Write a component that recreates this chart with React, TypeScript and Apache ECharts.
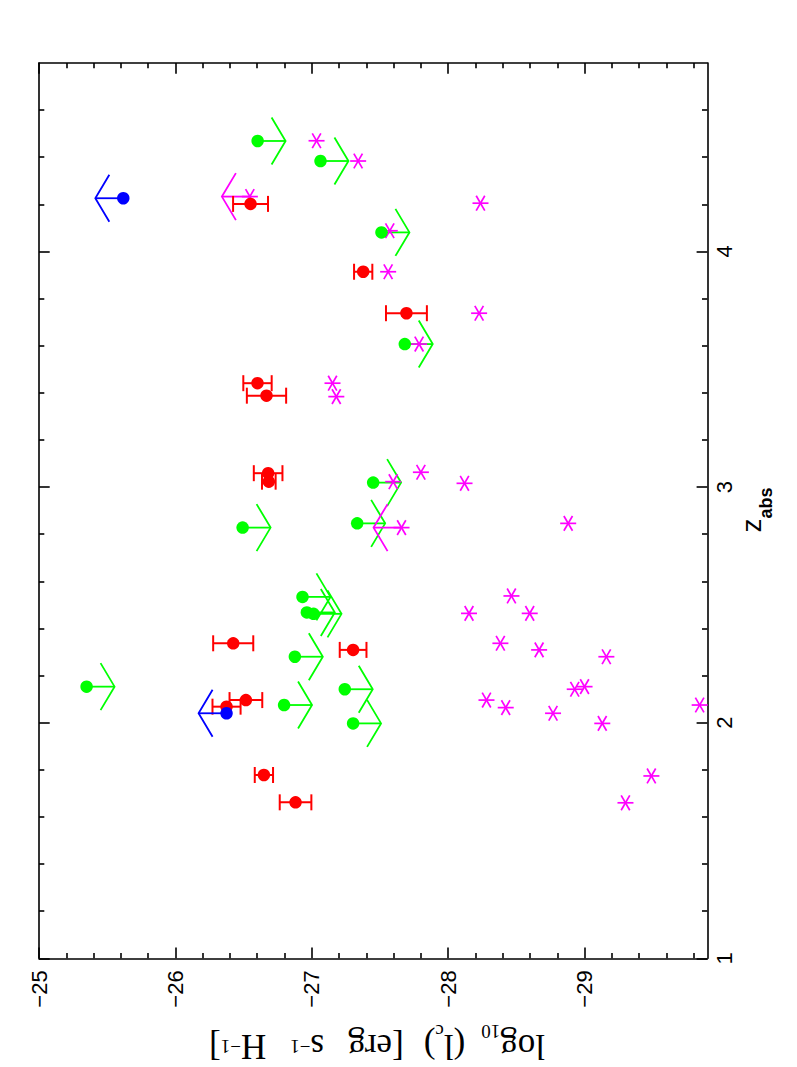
import React, { useEffect, useRef } from "react";
import * as echarts from "echarts";

// ---- axis ranges & ticks ----
const LC_MIN = -29.9;
const LC_MAX = -25;
const Z_MIN = 1;
const Z_MAX = 4.8;
const lcMajorTicks = [-29, -28, -27, -26, -25];
const lcMinorTicks = [
  -29.8, -29.6, -29.4, -29.2, -28.8, -28.6, -28.4, -28.2, -27.8, -27.6,
  -27.4, -27.2, -26.8, -26.6, -26.4, -26.2, -25.8, -25.6, -25.4, -25.2,
];
const zMajorTicks = [1, 2, 3, 4];
const zMinorTicks = [
  1.2, 1.4, 1.6, 1.8, 2.2, 2.4, 2.6, 2.8, 3.2, 3.4, 3.6, 3.8, 4.2, 4.4, 4.6,
];

// ---- data: [log10 lc, z_abs] ----
const greenUpperLimits = [
  [-26.603, 4.469],
  [-27.064, 4.384],
  [-27.511, 4.081],
  [-27.682, 3.607],
  [-27.45, 3.019],
  [-26.493, 2.828],
  [-27.333, 2.846],
  [-26.932, 2.534],
  [-26.964, 2.468],
  [-27.013, 2.462],
  [-26.876, 2.28],
  [-27.242, 2.142],
  [-27.303, 1.997],
  [-26.797, 2.075],
  [-25.349, 2.153],
];

// [log10 lc, z_abs, error]
const redMeasurements = [
  [-26.551, 4.202, 0.128],
  [-27.377, 3.914, 0.067],
  [-27.694, 3.738, 0.15],
  [-26.602, 3.441, 0.104],
  [-26.668, 3.388, 0.144],
  [-26.68, 3.059, 0.105],
  [-26.685, 3.023, 0.05],
  [-26.424, 2.337, 0.147],
  [-27.303, 2.309, 0.098],
  [-26.517, 2.096, 0.12],
  [-26.375, 2.068, 0.103],
  [-26.649, 1.778, 0.067],
  [-26.881, 1.662, 0.116],
];

const blueLowerLimits = [
  [-25.618, 4.226],
  [-26.375, 2.04],
];

const magentaStars = [
  [-27.035, 4.47],
  [-27.34, 4.384],
  [-26.546, 4.233],
  [-27.572, 4.088],
  [-27.56, 3.914],
  [-28.237, 4.205],
  [-28.227, 3.738],
  [-27.787, 3.607],
  [-27.152, 3.441],
  [-27.18, 3.384],
  [-27.597, 3.023],
  [-27.8, 3.063],
  [-28.12, 3.016],
  [-27.658, 2.828],
  [-28.88, 2.846],
  [-28.153, 2.464],
  [-28.464, 2.538],
  [-28.598, 2.464],
  [-28.383, 2.337],
  [-28.667, 2.309],
  [-29.16, 2.28],
  [-28.928, 2.142],
  [-29.0, 2.153],
  [-28.281, 2.096],
  [-28.422, 2.064],
  [-28.769, 2.04],
  [-29.13, 1.997],
  [-29.844, 2.075],
  [-29.49, 1.774],
  [-29.3, 1.66],
];

const magentaLowerLimits = [
  [-26.546, 4.233],
  [-27.658, 2.828],
];

const ARROW_LEN = 0.205; // in log10 lc units

const GREEN = "#00ff00";
const RED = "#ff0000";
const BLUE = "#0000ff";
const MAGENTA = "#ff00ff";
const BLACK = "#000000";

function arrowRenderer(color: string, dir: number) {
  return (params: any, api: any) => {
    const lc = api.value(0);
    const z = api.value(1);
    const p = api.coord([lc, z]);
    const t = api.coord([lc + dir * ARROW_LEN, z]);
    const s = Math.sign(t[0] - p[0]) || 1;
    const bx = t[0] - s * 14;
    const st = { stroke: color, lineWidth: 1.8, fill: "none" };
    return {
      type: "group",
      children: [
        { type: "line", shape: { x1: p[0], y1: p[1], x2: t[0], y2: t[1] }, style: st },
        {
          type: "polyline",
          shape: { points: [[bx, t[1] - 23.5], [t[0], t[1]], [bx, t[1] + 23.5]] },
          style: st,
        },
      ],
    };
  };
}

function starRenderer(params: any, api: any) {
  const p = api.coord([api.value(0), api.value(1)]);
  const st = { stroke: MAGENTA, lineWidth: 1.7 };
  return {
    type: "group",
    children: [
      { type: "line", shape: { x1: p[0] - 8, y1: p[1], x2: p[0] + 8, y2: p[1] }, style: st },
      { type: "line", shape: { x1: p[0] - 4.3, y1: p[1] - 7.4, x2: p[0] + 4.3, y2: p[1] + 7.4 }, style: st },
      { type: "line", shape: { x1: p[0] - 4.3, y1: p[1] + 7.4, x2: p[0] + 4.3, y2: p[1] - 7.4 }, style: st },
    ],
  };
}

function errorBarRenderer(params: any, api: any) {
  const lc = api.value(0);
  const z = api.value(1);
  const e = api.value(2);
  const a = api.coord([lc - e, z]);
  const b = api.coord([lc + e, z]);
  const st = { stroke: RED, lineWidth: 2 };
  return {
    type: "group",
    children: [
      { type: "line", shape: { x1: a[0], y1: a[1], x2: b[0], y2: b[1] }, style: st },
      { type: "line", shape: { x1: a[0], y1: a[1] - 8, x2: a[0], y2: a[1] + 8 }, style: st },
      { type: "line", shape: { x1: b[0], y1: b[1] - 8, x2: b[0], y2: b[1] + 8 }, style: st },
    ],
  };
}

export default function App() {
  const ref = useRef<HTMLDivElement>(null);

  useEffect(() => {
    if (!ref.current) return;
    const chart = echarts.init(ref.current, null, { renderer: "svg" });

    const lineStyle = { color: BLACK, width: 1.6 };
    const hidden = { show: false };

    const xBase = {
      type: "value",
      min: LC_MIN,
      max: LC_MAX,
      inverse: true,
      splitLine: hidden,
      axisLabel: hidden,
    };
    const yBase = {
      type: "value",
      min: Z_MIN,
      max: Z_MAX,
      splitLine: hidden,
      axisLabel: hidden,
    };

    const xAxis = [
      {
        ...xBase,
        position: "bottom",
        axisLine: { show: true, onZero: false, lineStyle },
        axisTick: { show: true, inside: true, length: 10.7, customValues: lcMajorTicks, lineStyle },
        axisLabel: {
          show: true,
          customValues: lcMajorTicks,
          rotate: 90,
          margin: 12,
          color: BLACK,
          fontSize: 22,
          fontFamily: "Liberation Sans",
          formatter: (v: number) => "\u2212" + Math.abs(v),
        },
      },
      {
        ...xBase,
        position: "bottom",
        axisLine: { show: false, onZero: false },
        axisTick: { show: true, inside: true, length: 5.3, customValues: lcMinorTicks, lineStyle },
      },
      {
        ...xBase,
        position: "top",
        axisLine: { show: true, onZero: false, lineStyle },
        axisTick: { show: true, inside: true, length: 10.7, customValues: lcMajorTicks, lineStyle },
      },
      {
        ...xBase,
        position: "top",
        axisLine: { show: false, onZero: false },
        axisTick: { show: true, inside: true, length: 5.3, customValues: lcMinorTicks, lineStyle },
      },
    ];

    const yAxis = [
      {
        ...yBase,
        position: "right",
        axisLine: { show: true, onZero: false, lineStyle },
        axisTick: { show: true, inside: true, length: 10.7, customValues: zMajorTicks, lineStyle },
        axisLabel: {
          show: true,
          customValues: zMajorTicks,
          rotate: 90,
          margin: 6,
          color: BLACK,
          fontSize: 22,
          fontFamily: "Liberation Sans",
          formatter: (v: number) => String(v),
        },
      },
      {
        ...yBase,
        position: "right",
        axisLine: { show: false, onZero: false },
        axisTick: { show: true, inside: true, length: 5.3, customValues: zMinorTicks, lineStyle },
      },
      {
        ...yBase,
        position: "left",
        axisLine: { show: true, onZero: false, lineStyle },
        axisTick: { show: true, inside: true, length: 10.7, customValues: zMajorTicks, lineStyle },
      },
      {
        ...yBase,
        position: "left",
        axisLine: { show: false, onZero: false },
        axisTick: { show: true, inside: true, length: 5.3, customValues: zMinorTicks, lineStyle },
      },
    ];

    const custom = (name: string, data: any[], renderItem: any) => ({
      name,
      type: "custom",
      xAxisIndex: 0,
      yAxisIndex: 0,
      data,
      encode: { x: 0, y: 1 },
      renderItem,
      silent: true,
    });
    const circles = (name: string, data: any[], color: string) => ({
      name,
      type: "scatter",
      xAxisIndex: 0,
      yAxisIndex: 0,
      data,
      symbol: "circle",
      symbolSize: 12.5,
      itemStyle: { color, opacity: 1 },
      silent: true,
    });

    const option = {
      animation: false,
      backgroundColor: "#ffffff",
      textStyle: { fontFamily: "Liberation Sans" },
      grid: {
        left: 39,
        top: 63,
        right: 89.7,
        bottom: 108.7,
        containLabel: false,
        outerBoundsMode: "none",
      },
      xAxis,
      yAxis,
      series: [
        custom("green limits", greenUpperLimits, arrowRenderer(GREEN, -1)),
        circles("green", greenUpperLimits, GREEN),
        custom("magenta limits", magentaLowerLimits, arrowRenderer(MAGENTA, 1)),
        custom("magenta", magentaStars, starRenderer),
        custom("red errors", redMeasurements, errorBarRenderer),
        circles("red", redMeasurements.map((d) => [d[0], d[1]]), RED),
        custom("blue limits", blueLowerLimits, arrowRenderer(BLUE, 1)),
        circles("blue", blueLowerLimits, BLUE),
      ],
      graphic: [
        {
          type: "text",
          x: 377,
          y: 1046.5,
          rotation: Math.PI,
          silent: true,
          style: {
            text:
              "{m|log}{sub|10}{g1| }{m|(l}{sub|c}{m|)}{g2| }{m|[erg}{g3| }{m|s}{sup|\u22121}{g3| }{m|H}{sup|\u22121}{m|]}",
            align: "center",
            verticalAlign: "middle",
            fill: BLACK,
            rich: {
              m: { fontSize: 35, fontFamily: "Liberation Serif", lineHeight: 50, verticalAlign: "middle", fill: BLACK },
              sub: { fontSize: 19, fontFamily: "Liberation Serif", lineHeight: 19, verticalAlign: "bottom", fill: BLACK },
              sup: { fontSize: 19, fontFamily: "Liberation Serif", lineHeight: 19, verticalAlign: "middle", fill: BLACK },
              g1: { fontSize: 35, width: 16, lineHeight: 50 },
              g2: { fontSize: 35, width: 20, lineHeight: 50 },
              g3: { fontSize: 35, width: 24, lineHeight: 50 },
            },
          },
        },
        {
          type: "text",
          x: 751,
          y: 510,
          rotation: Math.PI / 2,
          silent: true,
          style: {
            text: "{z|z}{s|abs}",
            align: "center",
            verticalAlign: "middle",
            fill: BLACK,
            rich: {
              z: { fontSize: 28, fontFamily: "Liberation Sans", lineHeight: 48, verticalAlign: "middle", fill: BLACK },
              s: { fontSize: 18, fontFamily: "Liberation Sans", fontWeight: "bold", lineHeight: 18, verticalAlign: "bottom", fill: BLACK },
            },
          },
        },
      ],
    };

    chart.setOption(option as any);
    return () => {
      chart.dispose();
    };
  }, []);

  return (
    <div
      ref={ref}
      style={{ position: "fixed", left: 0, top: 0, width: 797, height: 1067, background: "#fff" }}
    />
  );
}
